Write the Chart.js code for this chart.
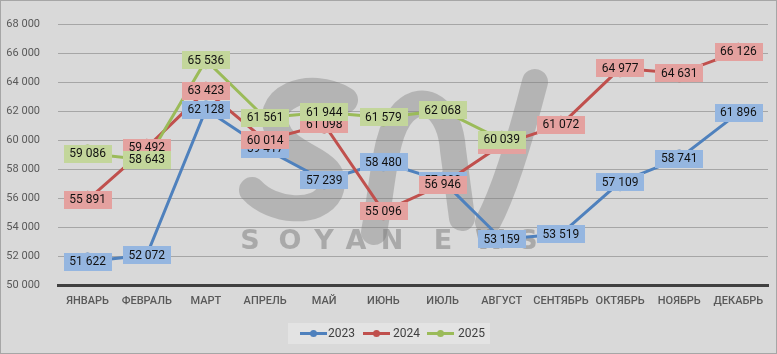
<!DOCTYPE html>
<html><head><meta charset="utf-8">
<script src="https://cdn.jsdelivr.net/npm/chart.js@4.4.1/dist/chart.umd.min.js"></script>
<style>html,body{margin:0;padding:0;background:#d9d9d9;}canvas{display:block;}</style>
</head><body>
<canvas id="c" width="777" height="354"></canvas>
<script>
const categories = ['ЯНВАРЬ','ФЕВРАЛЬ','МАРТ','АПРЕЛЬ','МАЙ','ИЮНЬ','ИЮЛЬ','АВГУСТ','СЕНТЯБРЬ','ОКТЯБРЬ','НОЯБРЬ','ДЕКАБРЬ'];
const seriesNames = ['2023','2024','2025'];
const values2023 = [51622, 52072, 62128, 59417, 57239, 58480, 57200, 53159, 53519, 57109, 58741, 61896];
const values2024 = [55891, 59492, 63423, 60014, 61098, 55096, 56946, 59700, 61072, 64977, 64631, 66126];
const values2025 = [59086, 58643, 65536, 61561, 61944, 61579, 62068, 60039, null, null, null, null];
const yMin = 50000, yMax = 68000, yStep = 2000;
const watermarkLetters = ['S','O','Y','A','N','E','W','S'];

const lineColors = ['#4f81bd', '#c0504d', '#9bbb59'];
const boxColors = ['#95b6e0', '#e4a19f', '#c3d69b'];

function fmt(v){ return String(v).replace(/\B(?=(\d{3})+(?!\d))/g, ' '); }

const bgPlugin = {
  id: 'bg',
  beforeDraw(chart){
    const ctx = chart.ctx;
    ctx.save();
    ctx.fillStyle = '#d9d9d9';
    ctx.fillRect(0,0,chart.width,chart.height);
    ctx.restore();
  },
  beforeDatasetsDraw(chart){
    const ctx = chart.ctx;
    ctx.save();
    ctx.strokeStyle = 'rgba(120,120,120,0.38)';
    ctx.lineWidth = 26;
    ctx.lineCap = 'round';
    ctx.lineJoin = 'round';
    ctx.beginPath();
    ctx.moveTo(345,100);
    ctx.bezierCurveTo(310,78, 258,98, 280,135);
    ctx.bezierCurveTo(296,160, 342,160, 330,192);
    ctx.bezierCurveTo(318,216, 272,212, 252,190);
    ctx.stroke();
    ctx.beginPath();
    ctx.moveTo(374,232);
    ctx.bezierCurveTo(384,180, 384,132, 404,112);
    ctx.bezierCurveTo(424,92, 450,108, 453,150);
    ctx.lineTo(462,218);
    ctx.stroke();
    ctx.beginPath();
    ctx.moveTo(488,222);
    ctx.bezierCurveTo(505,190, 520,140, 535,82);
    ctx.stroke();
    ctx.fillStyle = 'rgba(110,110,110,0.45)';
    ctx.font = 'bold 27px "DejaVu Sans"';
    ctx.textAlign = 'center';
    ctx.textBaseline = 'middle';
    const xs = [250, 290, 324, 356, 392, 443, 490, 528];
    watermarkLetters.forEach((l,i)=>ctx.fillText(l, xs[i], 242));
    ctx.restore();
  },
  afterDatasetsDraw(chart){
    const ctx = chart.ctx;
    ctx.save();
    ctx.font = '12px Roboto';
    ctx.textAlign = 'center';
    ctx.textBaseline = 'middle';
    chart.data.datasets.forEach((ds, di)=>{
      const meta = chart.getDatasetMeta(di);
      meta.data.forEach((pt, i)=>{
        const v = ds.data[i];
        if (v === null || v === undefined) return;
        const t = fmt(v);
        const w = ctx.measureText(t).width + 11;
        const h = 18;
        ctx.fillStyle = boxColors[di];
        ctx.fillRect(Math.round(pt.x - w/2), Math.round(pt.y - h/2), Math.round(w), h);
        ctx.fillStyle = '#111';
        ctx.fillText(t, pt.x, pt.y + 0.5);
      });
    });
    ctx.restore();
  },
  afterDraw(chart){
    const ctx = chart.ctx;
    ctx.save();
    ctx.fillStyle = '#e3e3e3';
    ctx.fillRect(288, 323, 202, 21);
    const items = [{lx:300, tx:328},{lx:363, tx:393},{lx:427, tx:458}];
    ctx.font = '12px Roboto';
    ctx.textBaseline = 'middle';
    ctx.textAlign = 'left';
    chart.data.datasets.forEach((ds, di)=>{
      const it = items[di];
      const cy = 333.5;
      ctx.strokeStyle = lineColors[di];
      ctx.lineWidth = 3;
      ctx.beginPath(); ctx.moveTo(it.lx, cy); ctx.lineTo(it.lx+27, cy); ctx.stroke();
      ctx.fillStyle = lineColors[di];
      ctx.beginPath(); ctx.arc(it.lx+13.5, cy, 3.5, 0, Math.PI*2); ctx.fill();
      ctx.fillStyle = '#404040';
      ctx.fillText(ds.label, it.tx, cy);
    });
    ctx.strokeStyle = '#a6a6a6';
    ctx.lineWidth = 1;
    ctx.strokeRect(0.5, 0.5, chart.width-1, chart.height-1);
    ctx.restore();
  }
};

const allSeries = [values2023, values2024, values2025];
new Chart(document.getElementById('c'), {
  type: 'line',
  data: {
    labels: categories,
    datasets: allSeries.map((vals, i)=>({
      label: seriesNames[i],
      data: vals,
      borderColor: lineColors[i],
      backgroundColor: lineColors[i],
      pointBackgroundColor: lineColors[i],
      pointBorderWidth: 0,
      pointRadius: 9,
      pointHoverRadius: 9,
      borderWidth: 3,
      tension: 0,
      spanGaps: false,
      order: 3 - i
    }))
  },
  options: {
    responsive: false,
    animation: false,
    devicePixelRatio: 1,
    layout: { padding: { left: 0, right: 1, top: 16, bottom: 39 } },
    plugins: { legend: { display: false }, tooltip: { enabled: false } },
    scales: {
      x: {
        offset: true,
        grid: { display: false, drawTicks: false },
        border: { display: true, color: '#404040', width: 3 },
        ticks: { font: { family: 'Roboto', size: 11, weight: '500' }, color: '#595959', padding: 10, maxRotation: 0, autoSkip: false },
        afterFit(s){ s.height = 30; }
      },
      y: {
        min: yMin, max: yMax,
        grid: { color: '#a6a6a6', lineWidth: 1, drawTicks: false },
        border: { display: false },
        ticks: { stepSize: yStep, font: { family: 'Roboto', size: 11 }, color: '#595959', padding: 18, callback: v => fmt(v) },
        afterFit(s){ s.width = 58; }
      }
    }
  },
  plugins: [bgPlugin]
});
</script>
</body></html>
